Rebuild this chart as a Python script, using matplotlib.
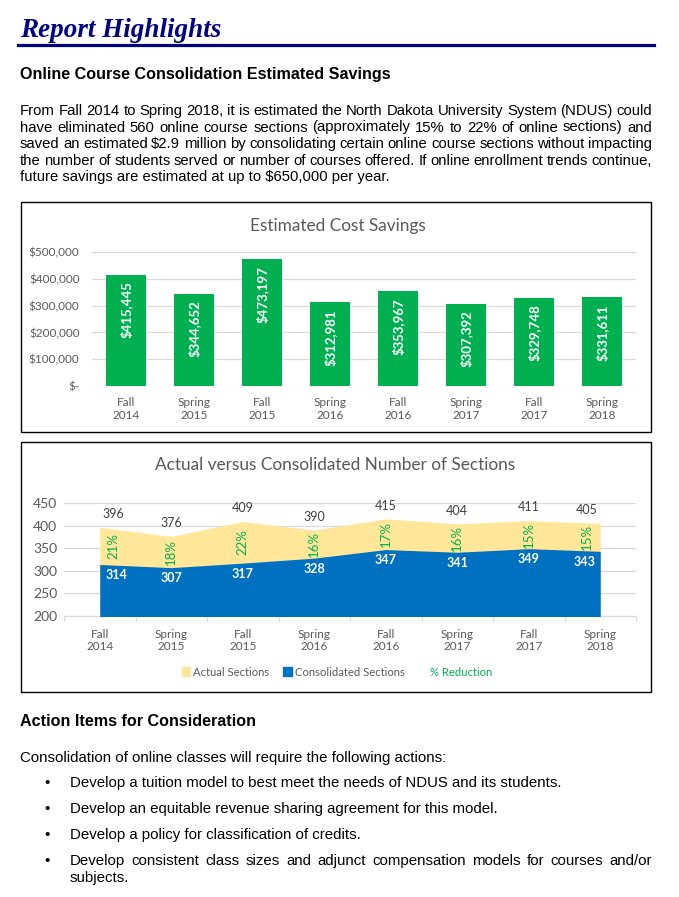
import matplotlib
matplotlib.use("Agg")
import matplotlib.pyplot as plt
from matplotlib.patches import Rectangle, Patch
from matplotlib.lines import Line2D
from matplotlib.ticker import FuncFormatter, FixedLocator
import numpy as np

W, H = 679, 897

# ---- data ----
semesters = ["Fall\n2014", "Spring\n2015", "Fall\n2015", "Spring\n2016",
             "Fall\n2016", "Spring\n2017", "Fall\n2017", "Spring\n2018"]
savings = [415445, 344652, 473197, 312981, 353967, 307392, 329748, 331611]
actual_sections = [396, 376, 409, 390, 415, 404, 411, 405]
consolidated_sections = [314, 307, 317, 328, 347, 341, 349, 343]
pct_reduction = [21, 18, 22, 16, 17, 16, 15, 15]

paragraph = [
    "From Fall 2014 to Spring 2018, it is estimated the North Dakota University System (NDUS) could",
    "have eliminated 560 online course sections (approximately 15% to 22% of online sections) and",
    "saved an estimated $2.9 million by consolidating certain online course sections without impacting",
    "the number of students served or number of courses offered. If online enrollment trends continue,",
    "future savings are estimated at up to $650,000 per year.",
]
bullets = [
    ["Develop a tuition model to best meet the needs of NDUS and its students."],
    ["Develop an equitable revenue sharing agreement for this model."],
    ["Develop a policy for classification of credits."],
    ["Develop consistent class sizes and adjunct compensation models for courses and/or",
     "subjects."],
]

NAVY = "#000080"
GREEN = "#00B050"
YELLOW = "#FFE699"
BLUE = "#0070C0"
GRAY = "#595959"
GRID = "#D9D9D9"
BODY = "Liberation Sans"
CHART = "Lato"

fig = plt.figure(figsize=(W / 100, H / 100), dpi=100)
renderer = fig.canvas.get_renderer()


def fx(x):
    return x / W


def fy(y):
    return 1 - y / H


def add_axes_px(left, top, right, bottom):
    return fig.add_axes([fx(left), fy(bottom), (right - left) / W, (bottom - top) / H])


def text_width(s, **kw):
    t = fig.text(0, 0, s, **kw)
    w = t.get_window_extent(renderer).width
    t.remove()
    return w


def justified(line, x0, x1, y, justify=True, **kw):
    # lay a line out word by word so that it fills x0..x1, like a justified paragraph
    if not justify:
        fig.text(fx(x0), fy(y), line, va="baseline", ha="left", **kw)
        return
    words = line.split()
    bars_w = text_width("||", **kw)
    # advance widths: bracket each word with ink so bearings don't skew the gaps
    widths = [text_width("|" + w + "|", **kw) - bars_w for w in words]
    gap = (x1 - x0 - sum(widths)) / (len(words) - 1)
    x = x0
    for w, wd in zip(words, widths):
        fig.text(fx(x), fy(y), w, va="baseline", ha="left", **kw)
        x += wd + gap


# ---- page header ----
fig.text(fx(20), fy(37), "Report Highlights", family="Liberation Serif",
         style="italic", weight="bold", size=19.5, color=NAVY, va="baseline")
fig.add_artist(Line2D([fx(18), fx(654)], [fy(45.3), fy(45.3)], color=NAVY, lw=2.3))
fig.text(fx(20), fy(79), "Online Course Consolidation Estimated Savings",
         family=BODY, weight="bold", size=11.6, va="baseline")

base = 115
for i, line in enumerate(paragraph):
    justified(line, 20, 652, base + i * 16.5, justify=(i < len(paragraph) - 1),
              family=BODY, size=10.7)

# ---- chart boxes ----
for top, bottom in [(202.5, 432.5), (442.5, 691.5)]:
    fig.add_artist(Rectangle((fx(21), fy(bottom)), (650.5 - 21) / W, (bottom - top) / H,
                             transform=fig.transFigure, fill=False, ec="black", lw=1))

# ---- chart 1: estimated cost savings ----
x = np.arange(len(semesters))
ax1 = add_axes_px(92, 252, 636, 386)
bars = ax1.bar(x, savings, width=0.585, color=GREEN, zorder=3)
ax1.set_xlim(-0.5, len(semesters) - 0.5)
ax1.set_ylim(0, 500000)
ax1.set_yticks(np.arange(0, 500001, 100000))
ax1.yaxis.set_major_formatter(FuncFormatter(lambda v, p: "$-" if v == 0 else f"${v:,.0f}"))
ax1.grid(axis="y", color=GRID, lw=0.9, zorder=0)
ax1.set_xticks(x)
ax1.set_xticklabels(semesters, linespacing=1.2)
for s in ax1.spines.values():
    s.set_visible(False)
ax1.tick_params(axis="both", length=0, colors=GRAY, labelsize=8.5)
ax1.tick_params(axis="y", pad=9)
ax1.tick_params(axis="x", pad=8)
for lab in ax1.get_xticklabels() + ax1.get_yticklabels():
    lab.set_family(CHART)
for b, v in zip(bars, savings):
    ax1.annotate(f"${v:,.0f}", (b.get_x() + b.get_width() / 2, v), xytext=(0, -5),
                 textcoords="offset points", ha="center", va="top", rotation=90,
                 color="white", weight="bold", size=9.5, family=CHART)
fig.text(fx(338), fy(226), "Estimated Cost Savings", ha="center", va="center",
         color=GRAY, size=12.4, family=CHART)

# ---- chart 2: actual vs consolidated sections ----
ax2 = add_axes_px(64, 503, 636, 616)
ax2.fill_between(x, actual_sections, color=YELLOW, lw=0, zorder=2)
ax2.fill_between(x, consolidated_sections, color=BLUE, lw=0, zorder=3)
ax2.set_xlim(-0.5, len(semesters) - 0.5)
ax2.set_ylim(200, 450)
ax2.set_yticks(np.arange(200, 451, 50))
ax2.grid(axis="y", color=GRID, lw=0.9, zorder=0)
ax2.set_xticks(x)
ax2.set_xticklabels(semesters, linespacing=1.2)
ax2.xaxis.set_minor_locator(FixedLocator(np.arange(-0.5, len(semesters), 1.0)))
for name, s in ax2.spines.items():
    if name == "bottom":
        s.set_color(GRID)
        s.set_linewidth(0.9)
    else:
        s.set_visible(False)
ax2.tick_params(axis="both", which="major", length=0, colors=GRAY, labelsize=8.5)
ax2.tick_params(axis="y", labelsize=10, pad=5)
ax2.tick_params(axis="x", which="minor", length=3.5, color=GRID, width=0.9)
ax2.tick_params(axis="x", which="major", pad=9)
for lab in ax2.get_xticklabels() + ax2.get_yticklabels():
    lab.set_family(CHART)

# Excel pulls the labels of the first and last point inwards
last = len(semesters) - 1
for i in x:
    shift = 9.5 if i == 0 else (-10 if i == last else 0)
    cshift = 12 if i == 0 else (-11.5 if i == last else 0)
    ax2.annotate(str(actual_sections[i]), (i, actual_sections[i]), xytext=(shift, 9.5),
                 textcoords="offset points", ha="center", va="center",
                 color="#404040", size=9, family=CHART, zorder=5)
    ax2.annotate(str(consolidated_sections[i]), (i, consolidated_sections[i]),
                 xytext=(cshift, -7.5), textcoords="offset points", ha="center",
                 va="center", color="white", weight="bold", size=9, family=CHART, zorder=5)
    mid = (actual_sections[i] + consolidated_sections[i]) / 2
    ax2.annotate(f"{pct_reduction[i]}%", (i, mid), xytext=(shift, 0),
                 textcoords="offset points", ha="center", va="center", rotation=90,
                 color=GREEN, size=9.5, family=CHART, zorder=5)
fig.text(fx(335), fy(465), "Actual versus Consolidated Number of Sections", ha="center",
         va="center", color=GRAY, size=12.4, family=CHART)

handles = [Patch(color=YELLOW), Patch(color=BLUE), Line2D([], [], color="none")]
leg = ax2.legend(handles, ["Actual Sections", "Consolidated Sections", "% Reduction"],
                 loc="center", bbox_to_anchor=(fx(337), fy(672)),
                 bbox_transform=fig.transFigure, ncol=3, frameon=False,
                 handlelength=0.75, handleheight=0.75, handletextpad=0.3,
                 columnspacing=1.2, prop={"family": CHART, "size": 8.1})
for t in leg.get_texts():
    t.set_color(GRAY)
leg.get_texts()[2].set_color(GREEN)

# ---- action items ----
fig.text(fx(20), fy(726), "Action Items for Consideration", family=BODY,
         weight="bold", size=11.6, va="baseline")
fig.text(fx(20), fy(762), "Consolidation of online classes will require the following actions:",
         family=BODY, size=10.8, va="baseline")
y = 787
for item in bullets:
    fig.text(fx(47), fy(y), "\u2022", family=BODY, size=10.8, va="baseline", ha="center")
    for j, line in enumerate(item):
        justified(line, 70, 652, y, justify=(len(item) > 1 and j < len(item) - 1),
                  family=BODY, size=10.8)
        if j < len(item) - 1:
            y += 17
    y += 26 if item is not bullets[-1] else 0

fig.savefig("out.png", dpi=100)
